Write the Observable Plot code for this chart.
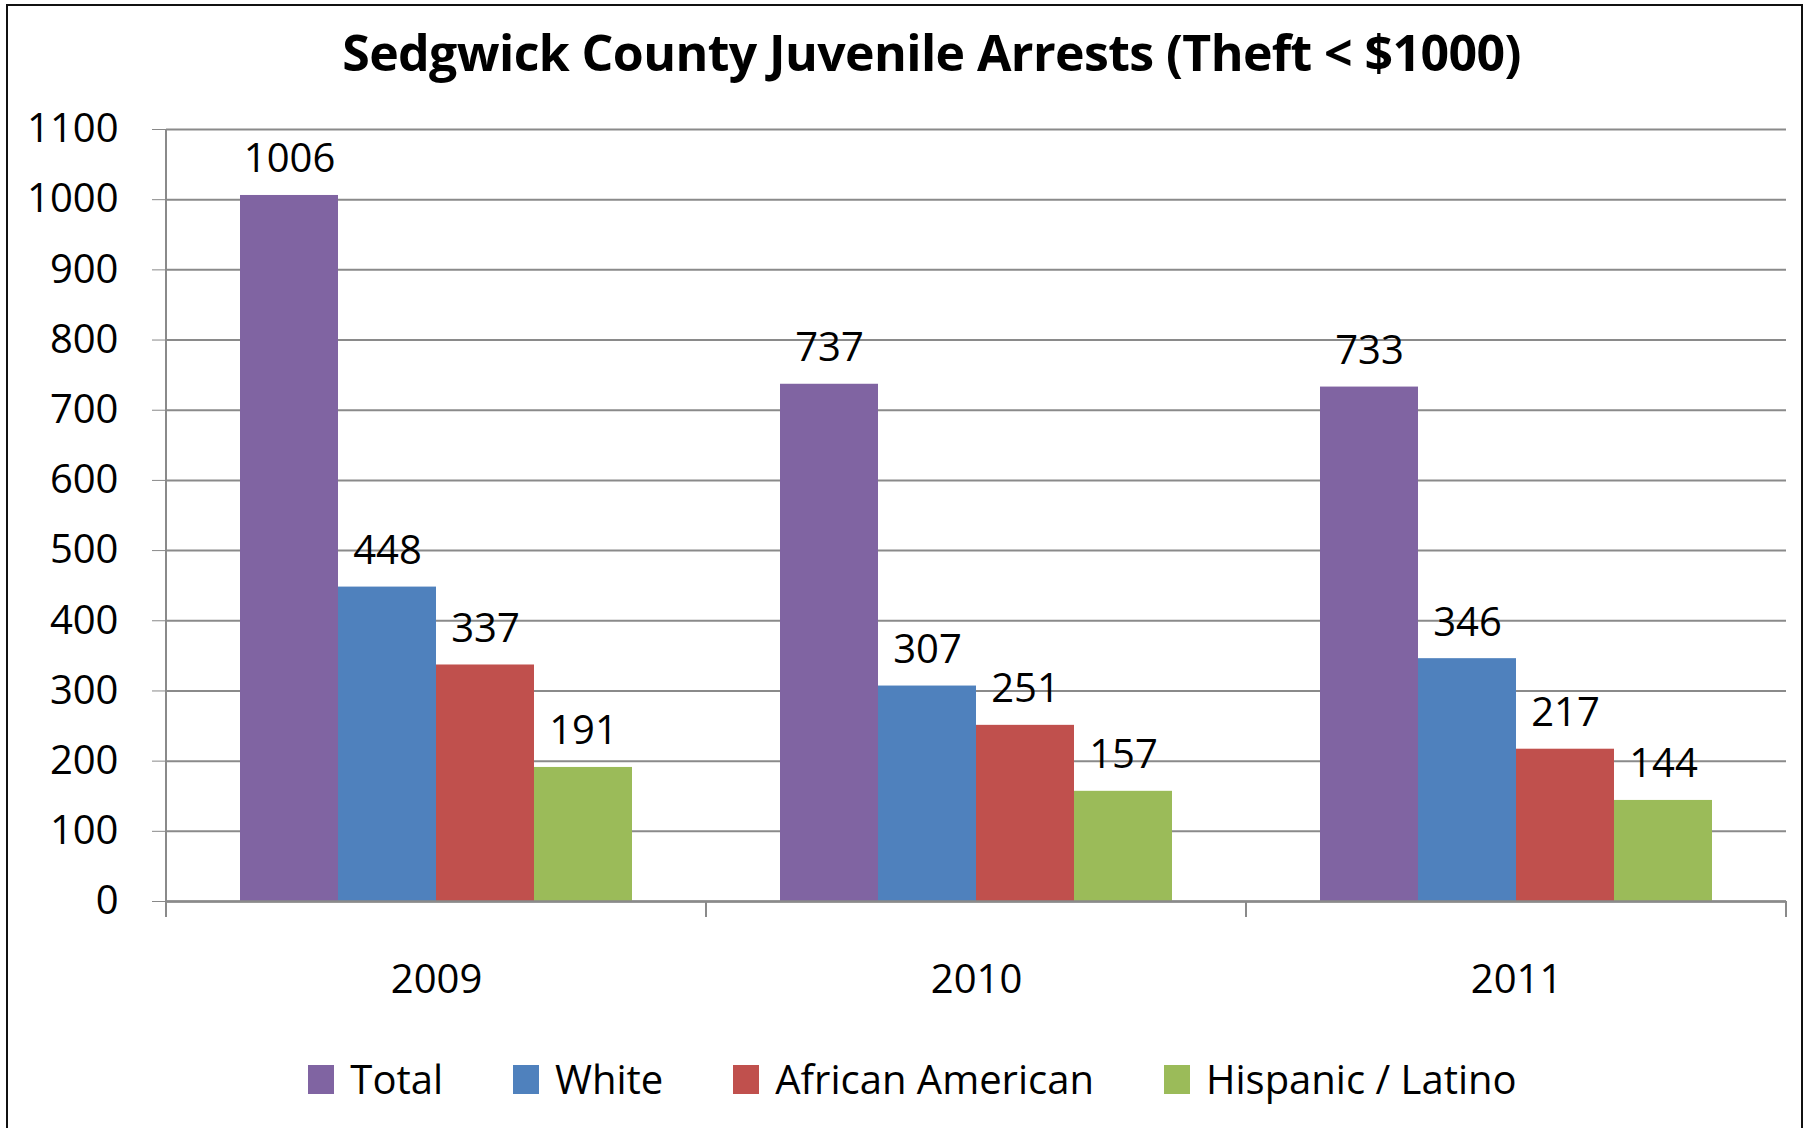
<!DOCTYPE html>
<html>
<head>
<meta charset="utf-8">
<script src="https://cdn.jsdelivr.net/npm/d3@7"></script>
<script src="https://cdn.jsdelivr.net/npm/@observablehq/plot@0.6"></script>
<style>
  html, body { margin: 0; padding: 0; background: #fff; }
  body { width: 1809px; height: 1128px; position: relative; overflow: hidden; font-family: "Open Sans", sans-serif; }
  #border { position: absolute; left: 6px; top: 4px; width: 1797px; height: 1140px; border: 2px solid #111; box-sizing: border-box; }
  #title { position: absolute; left: 27px; width: 1809px; top: 20px; text-align: center; font-weight: 700; font-size: 50px; line-height: 64px; color: #000; letter-spacing: -0.6px; }
  #chart { position: absolute; left: 0; top: 0; }
  #legend { position: absolute; top: 1050px; left: 0; width: 1809px; display: flex; justify-content: center; padding-left: 16px; box-sizing: border-box; font-size: 40px; line-height: 58px; color: #000; }
  .item { display: flex; align-items: center; margin: 0 35px; }
  .sw { width: 26px; height: 29px; margin-right: 16px; }
  #chart svg text { fill: #000; }
</style>
</head>
<body>
<div id="border"></div>
<div id="title">Sedgwick County Juvenile Arrests (Theft &lt; $1000)</div>
<div id="chart"></div>
<div id="legend"></div>
<script>
const years = ["2009", "2010", "2011"];
const seriesNames = ["Total", "White", "African American", "Hispanic / Latino"];
const seriesColors = ["#8064A2", "#4F81BD", "#C0504D", "#9BBB59"];
const totalValues = [1006, 737, 733];
const whiteValues = [448, 307, 346];
const africanAmericanValues = [337, 251, 217];
const hispanicValues = [191, 157, 144];
const yTicks = [0, 100, 200, 300, 400, 500, 600, 700, 800, 900, 1000, 1100];

const seriesValues = [totalValues, whiteValues, africanAmericanValues, hispanicValues];
const rows = [];
years.forEach((yr, i) => {
  seriesNames.forEach((s, j) => rows.push({year: yr, series: s, value: seriesValues[j][i]}));
});

const W = 1809, H = 1010;
const chart = Plot.plot({
  width: W,
  height: H,
  marginLeft: 166,
  marginRight: 23,
  marginTop: 129,
  marginBottom: 109,
  style: {fontFamily: "Open Sans", fontSize: "40px", color: "#888", background: "transparent"},
  facet: {data: rows, x: "year", marginBottom: 109, marginTop: 129, marginLeft: 166, marginRight: 23},
  fx: {domain: years, padding: 0, axis: "bottom", label: null, tickSize: 0, tickPadding: 63},
  x: {domain: seriesNames, paddingInner: 0, paddingOuter: 0.741, axis: null},
  y: {domain: [0, 1100], ticks: yTicks, tickFormat: d => String(d), tickSize: 14, tickPadding: 34, label: null},
  color: {domain: seriesNames, range: seriesColors},
  marks: [
    Plot.ruleY(yTicks, {stroke: "#8a8a8a", strokeWidth: 2}),
    Plot.barY(rows, {x: "series", y: "value", fill: "series", inset: 0}),
    Plot.ruleY([0], {stroke: "#8a8a8a", strokeWidth: 2.5}),
    Plot.text(rows, {x: "series", y: "value", text: d => String(d.value), dy: -23, lineAnchor: "bottom", fill: "#000", fontSize: 40})
  ]
});
document.getElementById("chart").appendChild(chart);

// Axis line and group-boundary ticks, placed with the chart's own scales
const fx = chart.scale("fx");
const y = chart.scale("y");
const svg = d3.select(chart);
const x0 = fx.range[0];
const step = (fx.range[1] - fx.range[0]) / years.length;
const yBase = y.apply(0), yTop = y.apply(1100);
const g = svg.append("g").attr("stroke", "#8a8a8a").attr("stroke-width", 2);
g.append("line").attr("x1", x0).attr("x2", x0).attr("y1", yTop).attr("y2", yBase + 16);
for (let i = 1; i <= years.length; i++) {
  const xb = x0 + i * step;
  g.append("line").attr("x1", xb).attr("x2", xb).attr("y1", yBase).attr("y2", yBase + 16);
}
svg.selectAll("text").style("fill", "#000");

const legend = document.getElementById("legend");
seriesNames.forEach((s, i) => {
  const it = document.createElement("div");
  it.className = "item";
  const sw = document.createElement("div");
  sw.className = "sw";
  sw.style.background = seriesColors[i];
  const t = document.createElement("span");
  t.textContent = s;
  it.appendChild(sw); it.appendChild(t);
  legend.appendChild(it);
});
</script>
</body>
</html>
